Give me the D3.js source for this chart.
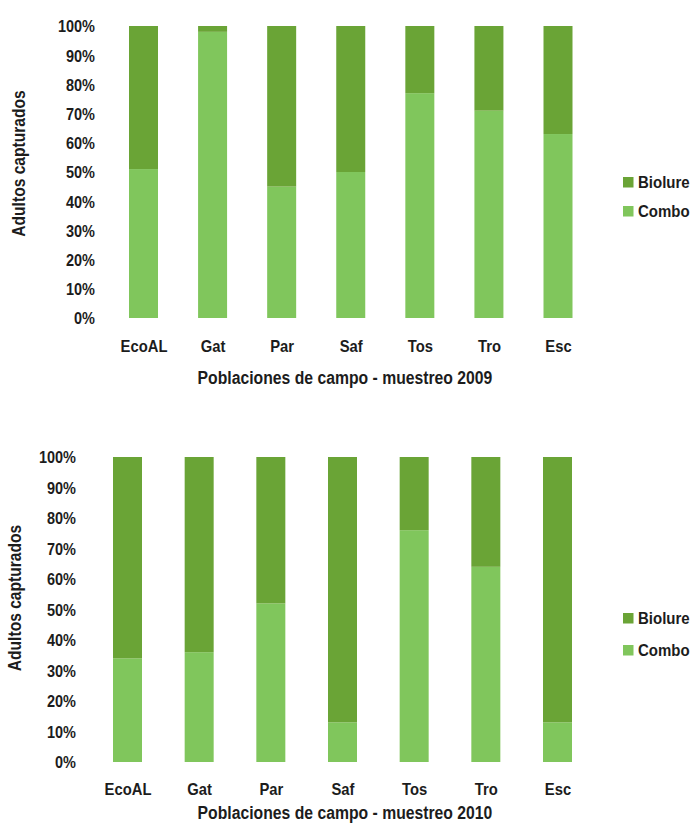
<!DOCTYPE html>
<html>
<head>
<meta charset="utf-8">
<script src="https://cdn.jsdelivr.net/npm/d3@7"></script>
<style>
  html, body { margin: 0; padding: 0; background: #ffffff; }
  svg text { font-family: "Liberation Sans", Arial, sans-serif; font-weight: bold; fill: #1c1c1c; }
</style>
</head>
<body>
<svg id="chart" width="693" height="832"></svg>
<script>
// ---- Data ----
const categories = ["EcoAL", "Gat", "Par", "Saf", "Tos", "Tro", "Esc"];
const seriesNames = ["Biolure", "Combo"];
const combo2009 = [51, 98, 45, 50, 77, 71, 63];
const biolure2009 = [49, 2, 55, 50, 23, 29, 37];
const combo2010 = [34, 36, 52, 13, 76, 64, 13];
const biolure2010 = [66, 64, 48, 87, 24, 36, 87];
const yTickValues = [0, 10, 20, 30, 40, 50, 60, 70, 80, 90, 100];
const xTitles = ["Poblaciones de campo - muestreo 2009", "Poblaciones de campo - muestreo 2010"];
const yTitle = "Adultos capturados";

const colors = { Biolure: "#6aa436", Combo: "#80c65c" };
const SY = 1.14; // vertical stretch of the original lettering

const svg = d3.select("#chart");

function stretchedText(parent, x, y, str, size, anchor, rotate) {
  const t = parent.append("g").attr("transform", `translate(${x},${y})` + (rotate ? ` rotate(${rotate})` : ""));
  t.append("text").attr("transform", rotate ? `scale(1,${SY})` : `scale(1,${SY})`)
    .attr("text-anchor", anchor).style("font-size", size + "px").text(str);
  return t;
}

function drawChart(opts) {
  const { combo, biolure, xRange, yRange, barWidth, tickX, catY, titleY, titleX, yTitleX, yTitleY, legendX, legendYs, xTitle } = opts;
  const rows = categories.map((c, i) => ({ cat: c, Combo: combo[i], Biolure: biolure[i] }));
  const stacked = d3.stack().keys(["Combo", "Biolure"])(rows);

  const x = d3.scalePoint().domain(categories).range(xRange);
  const y = d3.scaleLinear().domain([0, 100]).range(yRange);

  const g = svg.append("g");

  g.selectAll("g.series").data(stacked).join("g")
    .attr("class", "series")
    .attr("fill", d => colors[d.key])
    .selectAll("rect").data(d => d).join("rect")
    .attr("x", d => x(d.data.cat) - barWidth / 2)
    .attr("width", barWidth)
    .attr("y", d => y(d[1]))
    .attr("height", d => y(d[0]) - y(d[1]));

  // Y axis (labels only)
  const yAxis = d3.axisLeft(y).tickValues(yTickValues).tickFormat(d => d + "%").tickSize(0).tickPadding(0);
  const ya = g.append("g").attr("transform", `translate(${tickX},0)`).call(yAxis);
  ya.select(".domain").remove();
  ya.selectAll("text").style("font-size", "14.5px").attr("dy", "0.36em").attr("transform", `scale(1,${SY})`);

  // X axis (labels only)
  const xAxis = d3.axisBottom(x).tickSize(0).tickPadding(0);
  const xa = g.append("g").attr("transform", `translate(0,${catY})`).call(xAxis);
  xa.select(".domain").remove();
  xa.selectAll("text").style("font-size", "14.8px").attr("dy", "0").attr("transform", `scale(1,${SY})`);

  // Titles
  stretchedText(g, titleX, titleY, xTitle, 15.75, "middle");
  stretchedText(g, yTitleX, yTitleY, yTitle, 15.6, "middle", -90);

  // Legend
  seriesNames.forEach((s, i) => {
    const ly = legendYs[i];
    g.append("rect").attr("x", legendX).attr("y", ly - 11).attr("width", 10.5).attr("height", 10.5).attr("fill", colors[s]);
    stretchedText(g, legendX + 15, ly, s, 15, "start");
  });
}

drawChart({
  combo: combo2009, biolure: biolure2009,
  xRange: [143.5, 558], yRange: [318, 26], barWidth: 29,
  tickX: 95, catY: 352, titleY: 384, titleX: 345, yTitleX: 25, yTitleY: 163.5,
  legendX: 623, legendYs: [188, 217], xTitle: xTitles[0]
});

drawChart({
  combo: combo2010, biolure: biolure2010,
  xRange: [127.5, 557.5], yRange: [762, 457], barWidth: 29,
  tickX: 76, catY: 795, titleY: 819, titleX: 345, yTitleX: 21, yTitleY: 598,
  legendX: 623, legendYs: [624, 656], xTitle: xTitles[1]
});
</script>
</body>
</html>
